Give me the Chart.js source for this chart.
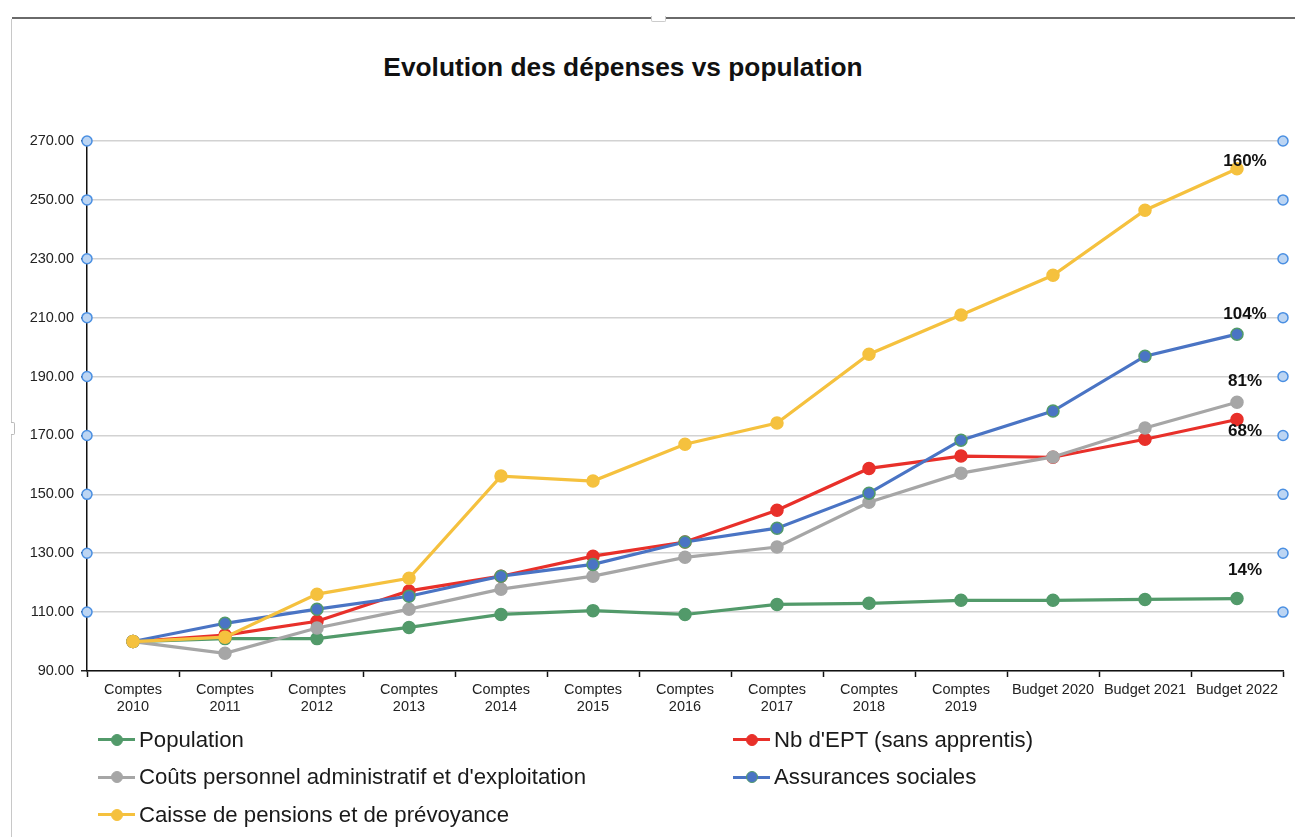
<!DOCTYPE html>
<html>
<head>
<meta charset="utf-8">
<script src="https://cdn.jsdelivr.net/npm/chart.js@4.4.0/dist/chart.umd.min.js"></script>
<style>
  html, body { margin: 0; padding: 0; background: #fff; }
  body { width: 1295px; height: 837px; position: relative; overflow: hidden; font-family: "Liberation Sans", Arial, sans-serif; }
  .frame-top { position: absolute; left: 12px; top: 17px; width: 1283px; height: 2px; background: #6a6a6a; }
  .frame-left { position: absolute; left: 11px; top: 19px; width: 1px; height: 818px; background: #c8c8c8; }
  .handle-top { position: absolute; left: 651px; top: 16px; width: 13px; height: 5px; background: #fff; border: 1px solid #ccc; border-top: none; border-radius: 0 0 2px 2px; }
  .handle-left { position: absolute; left: 11px; top: 422px; width: 3px; height: 11px; background: #fff; border: 1px solid #bbb; border-left: none; border-radius: 0 2px 2px 0; }
  #title { position: absolute; left: 0; width: 1246px; top: 52px; text-align: center; font-weight: bold; font-size: 26.3px; color: #111; }
  #wrap { position: absolute; left: 0; top: 0; width: 1295px; height: 837px; }
  #legend { position: absolute; left: 98px; top: 726px; display: grid; grid-template-columns: 635px 500px; row-gap: 10.5px; font-size: 22.2px; color: #1a1a1a; }
  .item { display: flex; align-items: center; height: 27px; white-space: nowrap; }
  .mk { position: relative; width: 37px; height: 3px; margin-right: 4px; }
  .mk span { position: absolute; left: 13px; top: -4.5px; width: 12px; height: 12px; border-radius: 50%; box-sizing: border-box; }
</style>
</head>
<body>
<div class="frame-top"></div>
<div class="frame-left"></div>
<div class="handle-top"></div>
<div class="handle-left"></div>
<div id="title">Evolution des dépenses vs population</div>
<div id="wrap"><canvas id="chart"></canvas></div>
<div id="legend"></div>
<script>
const categories = [
  ['Comptes', '2010'], ['Comptes', '2011'], ['Comptes', '2012'], ['Comptes', '2013'],
  ['Comptes', '2014'], ['Comptes', '2015'], ['Comptes', '2016'], ['Comptes', '2017'],
  ['Comptes', '2018'], ['Comptes', '2019'], 'Budget 2020', 'Budget 2021', 'Budget 2022'
];

const population   = [100, 101.0, 101.0, 104.8, 109.2, 110.5, 109.2, 112.6, 113.0, 114.0, 114.0, 114.3, 114.6];
const nbEpt        = [100, 102.2, 106.9, 117.2, 122.2, 129.0, 133.8, 144.6, 158.8, 163.0, 162.6, 168.7, 175.4];
const coutsPerso   = [100, 96.0, 104.6, 111.0, 117.8, 122.2, 128.6, 132.1, 147.3, 157.2, 162.7, 172.5, 181.3];
const assurances   = [100, 106.2, 111.0, 115.4, 122.2, 126.2, 133.8, 138.5, 150.4, 168.4, 178.3, 196.9, 204.4];
const caisse       = [100, 101.5, 116.1, 121.5, 156.2, 154.5, 167.0, 174.2, 197.6, 210.9, 224.4, 246.5, 260.6];

const endLabels = ['14%', '68%', '81%', '104%', '160%'];
const endLabelOffsets = [-28, 12, -21, -20, -7];

const yMin = 90, yMax = 270, yStep = 20;

const seriesNames = ['Population', "Nb d'EPT (sans apprentis)", "Coûts personnel administratif et d'exploitation", 'Assurances sociales', 'Caisse de pensions et de prévoyance'];
const seriesData = [population, nbEpt, coutsPerso, assurances, caisse];
const seriesColors = ['#529a6a', '#e8302a', '#a6a6a6', '#4a74c4', '#f5c13e'];
const pointBorders = ['#529a6a', '#e8302a', '#a6a6a6', '#529a6a', '#f5c13e'];

const datasets = seriesNames.map((name, i) => ({
  label: name,
  data: seriesData[i],
  borderColor: seriesColors[i],
  backgroundColor: seriesColors[i],
  pointBackgroundColor: seriesColors[i],
  pointBorderColor: pointBorders[i],
  pointBorderWidth: 1.5,
  pointRadius: 6,
  pointHoverRadius: 6,
  borderWidth: 3.2,
  tension: 0,
  fill: false,
  order: seriesNames.length - i
}));

// blue circles at the y ticks, on both sides of the plot
const axisHandles = {
  id: 'axisHandles',
  afterDraw(chart) {
    const { ctx, chartArea, scales } = chart;
    ctx.save();
    scales.y.ticks.forEach(t => {
      if (t.value <= yMin) return;
      const y = scales.y.getPixelForValue(t.value);
      [chartArea.left, chartArea.right].forEach(x => {
        ctx.beginPath();
        ctx.arc(x, y, 5, 0, Math.PI * 2);
        ctx.fillStyle = '#bcd5f3';
        ctx.fill();
        ctx.lineWidth = 1.5;
        ctx.strokeStyle = '#4a8fe2';
        ctx.stroke();
      });
    });
    ctx.restore();
  }
};

// percent labels at the last point of each series
const endLabelPlugin = {
  id: 'endLabelPlugin',
  afterDatasetsDraw(chart) {
    const { ctx } = chart;
    ctx.save();
    ctx.font = 'bold 17px "Liberation Sans", Arial, sans-serif';
    ctx.fillStyle = '#111';
    ctx.textAlign = 'center';
    ctx.textBaseline = 'middle';
    chart.data.datasets.forEach((ds, i) => {
      const meta = chart.getDatasetMeta(i);
      const pt = meta.data[meta.data.length - 1];
      if (!pt) return;
      ctx.fillText(endLabels[i], pt.x + 8, pt.y + endLabelOffsets[i]);
    });
    ctx.restore();
  }
};

const ctx = document.getElementById('chart').getContext('2d');
const chart = new Chart(ctx, {
  type: 'line',
  data: { labels: categories, datasets },
  plugins: [axisHandles, endLabelPlugin],
  options: {
    responsive: true,
    maintainAspectRatio: false,
    animation: false,
    layout: { padding: { left: 0, right: 12, top: 141, bottom: 0 } },
    plugins: {
      legend: { display: false },
      tooltip: { enabled: false },
      title: { display: false }
    },
    scales: {
      y: {
        min: yMin,
        max: yMax,
        afterFit: (scale) => { scale.width = 87; },
        ticks: {
          stepSize: yStep,
          padding: 7,
          color: '#222',
          font: { size: 14.5, family: '"Liberation Sans", Arial, sans-serif' },
          callback: (v) => v.toFixed(2)
        },
        grid: { color: '#d2d2d2', lineWidth: 1.5, tickLength: 6, tickColor: '#222', tickWidth: 1.5 },
        border: { display: true, color: '#111', width: 1.5 }
      },
      x: {
        offset: true,
        afterFit: (scale) => { scale.height = 166; },
        ticks: {
          autoSkip: false,
          maxRotation: 0,
          padding: 5,
          color: '#222',
          font: { size: 14.5, family: '"Liberation Sans", Arial, sans-serif', lineHeight: 1.15 }
        },
        grid: { offset: true, drawOnChartArea: false, drawTicks: true, tickLength: 6, tickColor: '#111', tickWidth: 1.5 },
        border: { display: true, color: '#111', width: 1.5 }
      }
    }
  }
});

// html legend built from the datasets, two columns as in the original
const legendEl = document.getElementById('legend');
chart.data.datasets.forEach((ds, i) => {
  const item = document.createElement('div');
  item.className = 'item';
  item.innerHTML = '<div class="mk" style="background:' + ds.borderColor + '"><span style="background:' + ds.pointBackgroundColor + ';border:1.5px solid ' + ds.pointBorderColor + '"></span></div>' + ds.label;
  legendEl.appendChild(item);
});
</script>
</body>
</html>
